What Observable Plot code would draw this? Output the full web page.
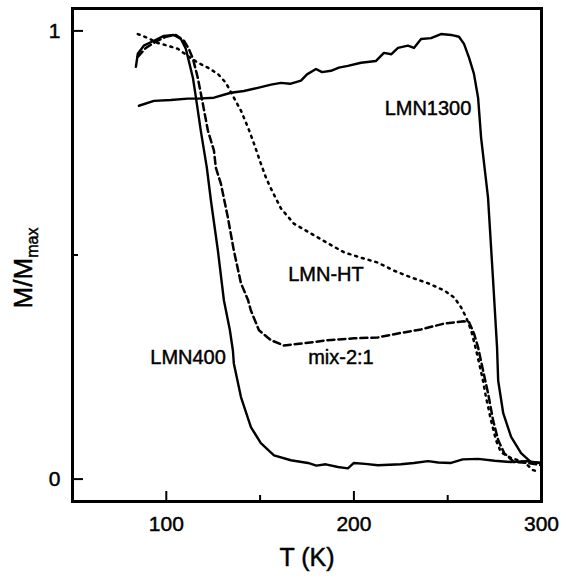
<!DOCTYPE html>
<html>
<head>
<meta charset="utf-8">
<script src="https://cdn.jsdelivr.net/npm/d3@7"></script>
<script src="https://cdn.jsdelivr.net/npm/@observablehq/plot@0.6"></script>
<style>
  html, body { margin: 0; padding: 0; background: #fff; }
  #chart { width: 570px; height: 582px; }
  #chart svg text { stroke: #000; stroke-width: 0.45px; }
</style>
</head>
<body>
<div id="chart"></div>
<script>
// LMN400 (solid)
const t400 = [83.8, 84.8, 88.0, 93.4, 98.7, 104.0, 107.8, 110.4, 112.0, 114.2, 115.8, 118.4, 121.6, 123.8, 127.5, 130.7, 133.9, 135.5, 136.0, 139.8, 145.1, 150.4, 157.4, 166.4, 175.5, 180, 185, 191.5, 196.8, 200.0, 206, 212.8, 225, 232, 239.5, 245, 251.8, 258, 266.2, 275, 283.8, 292, 299.8];
const m400 = [0.920, 0.949, 0.967, 0.978, 0.989, 0.991, 0.982, 0.960, 0.933, 0.895, 0.851, 0.777, 0.695, 0.621, 0.510, 0.399, 0.332, 0.287, 0.258, 0.183, 0.116, 0.080, 0.053, 0.042, 0.036, 0.030, 0.033, 0.027, 0.024, 0.036, 0.034, 0.031, 0.033, 0.036, 0.040, 0.037, 0.036, 0.044, 0.045, 0.041, 0.038, 0.040, 0.036];

// LMN1300 (solid)
const t1300 = [85.4, 93.4, 102.4, 111.5, 116.8, 125.4, 134.4, 141.4, 148.8, 155.8, 161.1, 166, 171.8, 175, 179.8, 183, 187.8, 192, 196.8, 203.8, 211.8, 216.0, 220, 223.5, 228.8, 232, 235.8, 241.1, 246.4, 251.8, 256.0, 258.7, 261.4, 264.0, 266.2, 267.8, 271.5, 274.2, 276.3, 276.9, 279.6, 283.8, 289.1, 294.4, 299.8];
const m1300 = [0.833, 0.844, 0.846, 0.849, 0.849, 0.851, 0.862, 0.866, 0.873, 0.880, 0.884, 0.882, 0.889, 0.903, 0.915, 0.908, 0.911, 0.918, 0.922, 0.929, 0.933, 0.951, 0.948, 0.962, 0.967, 0.962, 0.982, 0.984, 0.993, 0.991, 0.987, 0.971, 0.940, 0.904, 0.851, 0.762, 0.628, 0.443, 0.294, 0.220, 0.147, 0.094, 0.058, 0.038, 0.036];

// mix-2:1 (dashed)
const tMix = [84.8, 89.1, 94.4, 99.8, 105.1, 109.4, 112.0, 114.2, 116.8, 119.5, 122.2, 125.4, 126.4, 129.1, 132.8, 136.0, 139.8, 143.6, 145.1, 149.4, 155.8, 162.7, 173.4, 186.2, 200.0, 212.8, 223.5, 235.8, 248.1, 258.7, 261.4, 264.0, 266.2, 268.8, 271.5, 274.2, 276.9, 280.1, 285.4, 292.9, 299.8];
const mMix = [0.942, 0.962, 0.976, 0.987, 0.991, 0.978, 0.960, 0.938, 0.895, 0.837, 0.777, 0.733, 0.695, 0.659, 0.584, 0.510, 0.437, 0.399, 0.376, 0.332, 0.310, 0.298, 0.303, 0.310, 0.314, 0.316, 0.325, 0.334, 0.347, 0.352, 0.350, 0.325, 0.294, 0.243, 0.192, 0.131, 0.087, 0.058, 0.038, 0.036, 0.031];

// LMN-HT (dotted)
const tHT = [84.8, 90.2, 95.5, 100.8, 106.2, 111.5, 116.8, 122.2, 127.5, 131.8, 136.0, 139.8, 143.6, 146.8, 150.4, 153.1, 155.8, 161.1, 168.0, 177.1, 186.2, 194.7, 203.8, 212.8, 221.4, 230.4, 239.5, 248.1, 253.5, 257.2, 259.8, 262.5, 265.2, 266.8, 268.8, 270.4, 273.1, 275.7, 278.4, 283.8, 290.7, 295.5, 298.7];
const mHT = [0.993, 0.984, 0.973, 0.967, 0.960, 0.944, 0.929, 0.918, 0.904, 0.884, 0.851, 0.822, 0.784, 0.748, 0.704, 0.673, 0.648, 0.604, 0.570, 0.548, 0.526, 0.506, 0.494, 0.483, 0.465, 0.450, 0.437, 0.421, 0.405, 0.383, 0.361, 0.332, 0.287, 0.258, 0.220, 0.183, 0.131, 0.087, 0.060, 0.047, 0.038, 0.020, 0.016];

// curve labels
const labelText = ["LMN1300", "LMN-HT", "mix-2:1", "LMN400"];
const labelT = [239.5, 185.1, 193.1, 111.6];
const labelM = [0.826, 0.457, 0.272, 0.272];

// ticks
const xMajor = [100, 200, 300];
const xMinor = [150, 250];
const yMajor = [0, 1];
const yMinor = [0.5];

const rows = (t, m) => t.map((v, i) => ({T: v, M: m[i]}));
const labels = labelText.map((s, i) => ({s, T: labelT[i], M: labelM[i]}));

const font = "'Liberation Sans', Arial, Helvetica, sans-serif";

const chart = Plot.plot({
  width: 570,
  height: 582,
  marginLeft: 72,
  marginRight: 29,
  marginTop: 8,
  marginBottom: 81,
  style: {fontFamily: font, background: "#fff", color: "#000"},
  x: {domain: [50, 300]},
  y: {domain: [-0.05, 1.05]},
  marks: [
    Plot.line(rows(t400, m400), {x: "T", y: "M", stroke: "#000", strokeWidth: 2.4}),
    Plot.line(rows(t1300, m1300), {x: "T", y: "M", stroke: "#000", strokeWidth: 2.4}),
    Plot.line(rows(tMix, mMix), {x: "T", y: "M", stroke: "#000", strokeWidth: 2.5, strokeDasharray: "7,4"}),
    Plot.line(rows(tHT, mHT), {x: "T", y: "M", stroke: "#000", strokeWidth: 2.5, strokeDasharray: "2,5"}),
    Plot.text(labels, {x: "T", y: "M", text: "s", fontSize: 20, fill: "#000"}),
    Plot.axisX({ticks: xMajor, tickSize: -10, strokeWidth: 2, tickFormat: () => "", label: null}),
    Plot.axisX({ticks: xMinor, tickSize: -6, strokeWidth: 2, tickFormat: () => "", label: null}),
    Plot.axisX({ticks: xMajor, tickSize: 0, tickPadding: 15, fontSize: 21, tickFormat: d3.format("d"), label: null}),
    Plot.axisY({ticks: yMajor, tickSize: -11, strokeWidth: 2, tickFormat: () => "", label: null}),
    Plot.axisY({ticks: yMinor, tickSize: -6, strokeWidth: 2, tickFormat: () => "", label: null}),
    Plot.axisY({ticks: yMajor, tickSize: 0, tickPadding: 12, fontSize: 21, tickFormat: d3.format("d"), label: null}),
    Plot.text(["T (K)"], {frameAnchor: "bottom", dy: 64, fontSize: 25, fill: "#000"}),
    Plot.frame({stroke: "#000", strokeWidth: 3})
  ]
});

// y-axis title with subscript
const svg = d3.select(chart);
const yt = svg.append("text")
  .attr("transform", "translate(32,268) rotate(-90)")
  .attr("text-anchor", "middle")
  .attr("font-family", font)
  .attr("font-size", 26)
  .attr("fill", "#000");
yt.append("tspan").text("M/M");
yt.append("tspan").attr("font-size", 16).attr("dy", "0.35em").text("max");

document.getElementById("chart").appendChild(chart);
</script>
</body>
</html>
